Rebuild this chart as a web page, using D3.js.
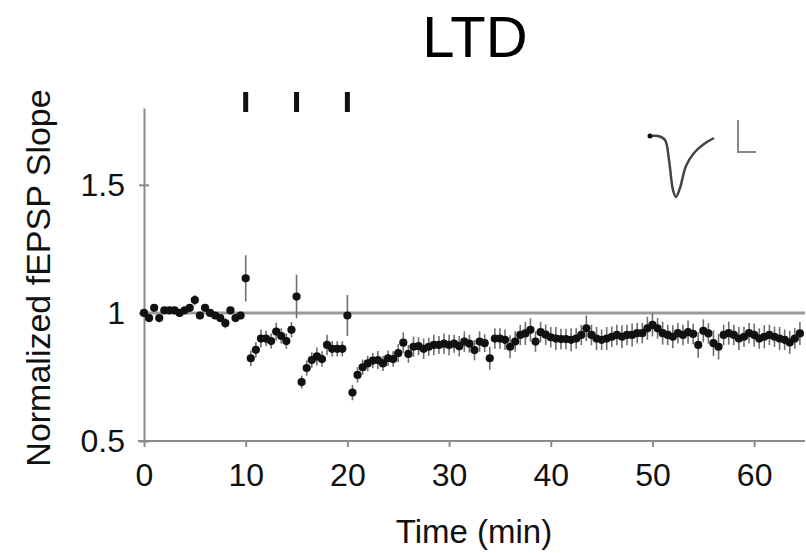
<!DOCTYPE html>
<html>
<head>
<meta charset="utf-8">
<script src="https://cdn.jsdelivr.net/npm/d3@7"></script>
<style>
  body { margin: 0; background: #fff; }
  svg { display: block; font-family: "Liberation Sans", Arial, sans-serif; }
  .axis path, .axis line { stroke: #8a8a8a; stroke-width: 2; }
  .axis text { fill: #111; font-size: 32px; }
</style>
</head>
<body>
<svg id="chart"></svg>
<script>
// Normalized fEPSP slope, one sample every 30 s (t = 0 ... 64.5 min)
const sampleStep = 0.5;
const slopeMean = [
  1.00, 0.98, 1.02, 0.98, 1.01, 1.01, 1.01, 1.00, 1.01, 1.02,
  1.05, 0.99, 1.02, 1.00, 0.99, 0.98, 0.96, 1.01, 0.98, 0.99,
  1.135,
  0.823, 0.856, 0.90, 0.90, 0.89, 0.927, 0.91, 0.89, 0.934,
  1.064,
  0.73, 0.785, 0.816, 0.83, 0.82, 0.875, 0.86, 0.86, 0.86,
  0.99,
  0.689, 0.758, 0.788, 0.803, 0.814, 0.816, 0.803, 0.823, 0.82,
  0.843, 0.884, 0.84, 0.868, 0.87, 0.86, 0.868, 0.875, 0.875, 0.88,
  0.875, 0.88, 0.87, 0.888, 0.88, 0.855, 0.888, 0.882, 0.823, 0.90,
  0.90, 0.895, 0.868, 0.888, 0.914, 0.92, 0.934, 0.888, 0.925, 0.915,
  0.905, 0.90, 0.898, 0.898, 0.895, 0.90, 0.914, 0.94, 0.914, 0.90,
  0.895, 0.90, 0.907, 0.914, 0.907, 0.914, 0.914, 0.921, 0.921, 0.94,
  0.953, 0.94, 0.921, 0.914, 0.907, 0.921, 0.914, 0.925, 0.918, 0.875,
  0.93, 0.92, 0.882, 0.868, 0.914, 0.921, 0.914, 0.90, 0.907, 0.921,
  0.914, 0.90, 0.907, 0.914, 0.907, 0.90, 0.895, 0.885, 0.90, 0.92
];
const slopeSem = [
  0.015, 0.015, 0.015, 0.015, 0.012, 0.012, 0.015, 0.012, 0.012, 0.015,
  0.02, 0.015, 0.015, 0.012, 0.015, 0.015, 0.02, 0.015, 0.015, 0.015,
  0.09,
  0.03, 0.03, 0.035, 0.03, 0.03, 0.035, 0.03, 0.03, 0.03,
  0.085,
  0.025, 0.03, 0.03, 0.035, 0.03, 0.04, 0.03, 0.03, 0.03,
  0.08,
  0.03, 0.03, 0.03, 0.03, 0.03, 0.035, 0.03, 0.03, 0.03,
  0.035, 0.04, 0.035, 0.04, 0.035, 0.04, 0.035, 0.04, 0.035, 0.04,
  0.04, 0.035, 0.04, 0.04, 0.035, 0.04, 0.04, 0.035, 0.045, 0.04,
  0.04, 0.04, 0.045, 0.04, 0.04, 0.045, 0.045, 0.04, 0.04, 0.04,
  0.04, 0.045, 0.04, 0.04, 0.045, 0.04, 0.04, 0.05, 0.04, 0.045,
  0.04, 0.045, 0.04, 0.04, 0.045, 0.04, 0.045, 0.04, 0.04, 0.045,
  0.045, 0.04, 0.045, 0.04, 0.045, 0.04, 0.04, 0.045, 0.04, 0.05,
  0.045, 0.04, 0.05, 0.05, 0.04, 0.045, 0.04, 0.045, 0.04, 0.04,
  0.045, 0.04, 0.045, 0.04, 0.04, 0.045, 0.04, 0.045, 0.04, 0.045
];
const stimTimes = [10, 15, 20];
const xTicks = [0, 10, 20, 30, 40, 50, 60];
const yTicks = [0.5, 1, 1.5];
const baselineLevel = 1;

class TimeCourseChart {

  constructor(_config, _data) {
    this.config = {
      parentElement: _config.parentElement,
      containerWidth: _config.containerWidth || 806,
      containerHeight: _config.containerHeight || 553,
      margin: _config.margin || {top: 108, right: 1, bottom: 112, left: 144}
    }
    this.data = _data;
    this.initVis();
  }

  initVis() {
    let vis = this;

    vis.width = vis.config.containerWidth - vis.config.margin.left - vis.config.margin.right;
    vis.height = vis.config.containerHeight - vis.config.margin.top - vis.config.margin.bottom;

    vis.xScale = d3.scaleLinear()
      .domain([0, 65])
      .range([0, vis.width]);

    vis.yScale = d3.scaleLinear()
      .domain([0.5, 1.8])
      .range([vis.height, 0]);

    vis.xAxis = d3.axisBottom(vis.xScale)
      .tickValues(xTicks)
      .tickFormat(d3.format('d'))
      .tickSize(6)
      .tickPadding(16)
      .tickSizeOuter(0);

    vis.yAxis = d3.axisLeft(vis.yScale)
      .tickValues(yTicks)
      .tickFormat(d => d === 1 ? '1' : d3.format('.1f')(d))
      .tickSize(5)
      .tickPadding(14)
      .tickSizeOuter(0);

    vis.svg = d3.select(vis.config.parentElement)
      .attr('width', vis.config.containerWidth)
      .attr('height', vis.config.containerHeight);

    vis.chart = vis.svg.append('g')
      .attr('transform', `translate(${vis.config.margin.left},${vis.config.margin.top})`);

    vis.xAxisG = vis.chart.append('g')
      .attr('class', 'axis x-axis')
      .attr('transform', `translate(0,${vis.height})`);

    vis.yAxisG = vis.chart.append('g')
      .attr('class', 'axis y-axis');

    // Title and axis titles
    vis.svg.append('text')
      .attr('x', 475)
      .attr('y', 57)
      .attr('text-anchor', 'middle')
      .style('font-size', '58px')
      .text('LTD');

    vis.svg.append('text')
      .attr('transform', 'translate(50,278) rotate(-90)')
      .attr('text-anchor', 'middle')
      .style('font-size', '34px')
      .style('fill', '#111')
      .text('Normalized fEPSP Slope');

    vis.svg.append('text')
      .attr('x', 474)
      .attr('y', 543)
      .attr('text-anchor', 'middle')
      .style('font-size', '33px')
      .style('fill', '#111')
      .text('Time (min)');
  }

  updateVis() {
    let vis = this;
    vis.points = vis.data.mean.map((m, i) => ({
      time: i * sampleStep,
      mean: m,
      sem: vis.data.sem[i]
    }));
    vis.renderVis();
  }

  renderVis() {
    let vis = this;

    vis.xAxisG.call(vis.xAxis);
    vis.yAxisG.call(vis.yAxis);
    vis.xAxisG.select('.domain').attr('d', `M-6,0H${vis.width}`);
    vis.yAxisG.selectAll('.tick line').attr('x2', 5).attr('x1', -5);
    vis.xAxisG.selectAll('.tick text').attr('dy', '0.71em');

    // Baseline reference at 1
    vis.chart.append('line')
      .attr('x1', 0)
      .attr('x2', vis.width)
      .attr('y1', vis.yScale(baselineLevel))
      .attr('y2', vis.yScale(baselineLevel))
      .attr('stroke', '#9a9a9a')
      .attr('stroke-width', 3);

    // Stimulation trains
    vis.chart.selectAll('.stim')
      .data(stimTimes)
      .join('rect')
      .attr('class', 'stim')
      .attr('x', d => vis.xScale(d) - 2.5)
      .attr('y', -16)
      .attr('width', 5)
      .attr('height', 20)
      .attr('fill', '#111');

    // Error bars
    vis.chart.selectAll('.err')
      .data(vis.points)
      .join('line')
      .attr('class', 'err')
      .attr('x1', d => vis.xScale(d.time))
      .attr('x2', d => vis.xScale(d.time))
      .attr('y1', d => vis.yScale(d.mean - d.sem))
      .attr('y2', d => vis.yScale(d.mean + d.sem))
      .attr('stroke', '#6f6f6f')
      .attr('stroke-width', 1.6);

    // Mean points
    vis.chart.selectAll('.pt')
      .data(vis.points)
      .join('circle')
      .attr('class', 'pt')
      .attr('cx', d => vis.xScale(d.time))
      .attr('cy', d => vis.yScale(d.mean))
      .attr('r', 4.1)
      .attr('fill', '#111');

    // Example fEPSP trace inset and scale bar
    const trace = [[650, 136], [658, 136], [665, 140], [669, 160], [673, 190], [676, 197],
                   [680, 188], [686, 166], [694, 153], [704, 144], [714, 138]];
    vis.svg.append('path')
      .attr('d', d3.line().curve(d3.curveCatmullRom)(trace))
      .attr('fill', 'none')
      .attr('stroke', '#444')
      .attr('stroke-width', 2.5);
    vis.svg.append('circle')
      .attr('cx', 650).attr('cy', 136).attr('r', 2.5).attr('fill', '#111');
    vis.svg.append('path')
      .attr('d', 'M738,120V152H756')
      .attr('fill', 'none')
      .attr('stroke', '#888')
      .attr('stroke-width', 2);
  }
}

const chart = new TimeCourseChart({parentElement: '#chart'}, {mean: slopeMean, sem: slopeSem});
chart.updateVis();
</script>
</body>
</html>
